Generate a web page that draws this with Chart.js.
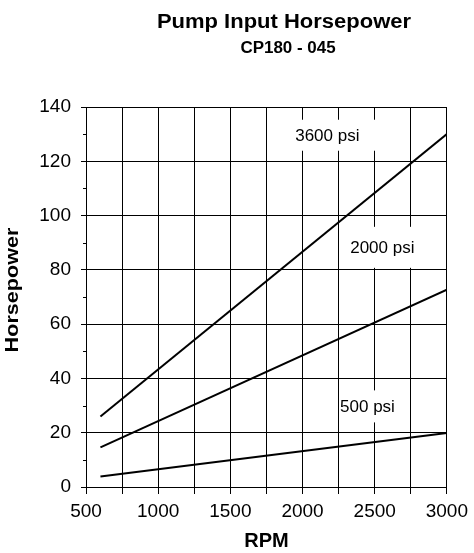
<!DOCTYPE html>
<html>
<head>
<meta charset="utf-8">
<script src="https://cdn.jsdelivr.net/npm/chart.js@4/dist/chart.umd.min.js"></script>
<style>
  html, body { margin: 0; padding: 0; background: #fff; }
  #wrap { width: 474px; height: 553px; }
</style>
</head>
<body>
<div id="wrap"><canvas id="grafica"></canvas></div>
<script>
const rpm = [600, 3000];
const hp3600 = [26, 130];
const hp2000 = [14.6, 72.7];
const hp500 = [3.9, 19.9];
const seriesNames = ['3600 psi', '2000 psi', '500 psi'];
const xTicks = [500, 1000, 1500, 2000, 2500, 3000];
const yTicks = [0, 20, 40, 60, 80, 100, 120, 140];

const FONT = '"Liberation Sans", Arial, sans-serif';

function pts(ys) {
  return rpm.map((x, i) => ({ x: x, y: ys[i] }));
}

// where each pressure label sits (in data units) and the white box behind it (px)
const psiLabels = [
  { text: seriesNames[0], x: 2172, y: 129.6, w: 100, h: 31 },
  { text: seriesNames[1], x: 2553, y: 88.3, w: 80, h: 41 },
  { text: seriesNames[2], x: 2450, y: 29.7, w: 56, h: 32 }
];

function stretchText(ctx, txt, x, y, sx) {
  ctx.save();
  ctx.translate(x, y);
  ctx.scale(sx, 1);
  ctx.fillText(txt, 0, 0);
  ctx.restore();
}

const textosPlugin = {
  id: 'textos',
  beforeDatasetsDraw(chart) {
    const ctx = chart.ctx;
    const xs = chart.scales.x, ys = chart.scales.y;
    ctx.save();
    psiLabels.forEach(l => {
      const px = xs.getPixelForValue(l.x);
      const py = ys.getPixelForValue(l.y);
      ctx.fillStyle = '#fff';
      ctx.fillRect(px - l.w / 2, py - l.h / 2, l.w, l.h);
      ctx.fillStyle = '#000';
      ctx.font = '17px ' + FONT;
      ctx.textAlign = 'center';
      ctx.textBaseline = 'alphabetic';
      ctx.fillText(l.text, px, py + 6);
    });
    // short minor ticks on the y axis
    ctx.strokeStyle = '#000';
    ctx.lineWidth = 1;
    ys.ticks.forEach(t => {
      if (yTicks.includes(t.value)) return;
      const py = Math.round(ys.getPixelForValue(t.value)) + 0.5;
      ctx.beginPath();
      ctx.moveTo(ys.right - 3, py);
      ctx.lineTo(ys.right + 1, py);
      ctx.stroke();
    });
    ctx.restore();
  },
  afterDraw(chart) {
    const ctx = chart.ctx;
    const area = chart.chartArea;
    ctx.save();
    ctx.fillStyle = '#000';
    ctx.textAlign = 'center';
    ctx.textBaseline = 'alphabetic';
    ctx.font = 'bold 20px ' + FONT;
    stretchText(ctx, 'Pump Input Horsepower', 284, 28, 1.1);
    ctx.font = 'bold 16px ' + FONT;
    stretchText(ctx, 'CP180 - 045', 288, 53, 1.06);

    // y axis title
    ctx.save();
    ctx.translate(18, (area.top + area.bottom) / 2 - 7);
    ctx.rotate(-Math.PI / 2);
    ctx.font = 'bold 18px ' + FONT;
    stretchText(ctx, 'Horsepower', 0, 0, 1.2);
    ctx.restore();
    ctx.restore();
  }
};

const lineStyle = {
  borderColor: '#000',
  borderWidth: 2,
  pointRadius: 0,
  fill: false,
  tension: 0
};

new Chart(document.getElementById('grafica').getContext('2d'), {
  type: 'line',
  data: {
    datasets: [
      Object.assign({ label: seriesNames[0], data: pts(hp3600) }, lineStyle),
      Object.assign({ label: seriesNames[1], data: pts(hp2000) }, lineStyle),
      Object.assign({ label: seriesNames[2], data: pts(hp500) }, lineStyle)
    ]
  },
  options: {
    responsive: true,
    maintainAspectRatio: false,
    animation: false,
    layout: { padding: { top: 107, right: 24, left: 0, bottom: 0 } },
    plugins: {
      legend: { display: false },
      tooltip: { enabled: false },
      title: { display: false }
    },
    scales: {
      x: {
        type: 'linear',
        min: 500,
        max: 3000,
        afterFit: s => { s.height = 66; },
        ticks: {
          stepSize: 250,
          color: '#000',
          font: { family: FONT, size: 19 },
          padding: 6,
          maxRotation: 0,
          autoSkip: false,
          callback: v => xTicks.includes(v) ? String(v) : ''
        },
        grid: { color: '#000', tickColor: '#000', tickLength: 7, lineWidth: 1 },
        border: { color: '#000' },
        title: {
          display: true,
          text: 'RPM',
          color: '#000',
          font: { family: FONT, size: 20, weight: 'bold' },
          padding: 0
        }
      },
      y: {
        min: 0,
        max: 140,
        afterFit: s => { s.width = 86; },
        ticks: {
          stepSize: 10,
          color: '#000',
          font: { family: FONT, size: 19 },
          padding: 10,
          autoSkip: false,
          callback: v => yTicks.includes(v) ? String(v) : ''
        },
        grid: {
          color: c => (c.tick && yTicks.includes(c.tick.value)) ? '#000' : 'rgba(0,0,0,0)',
          tickColor: c => (c.tick && yTicks.includes(c.tick.value)) ? '#000' : 'rgba(0,0,0,0)',
          tickLength: 5,
          lineWidth: 1
        },
        border: { color: '#000' }
      }
    }
  },
  plugins: [textosPlugin]
});
</script>
</body>
</html>
